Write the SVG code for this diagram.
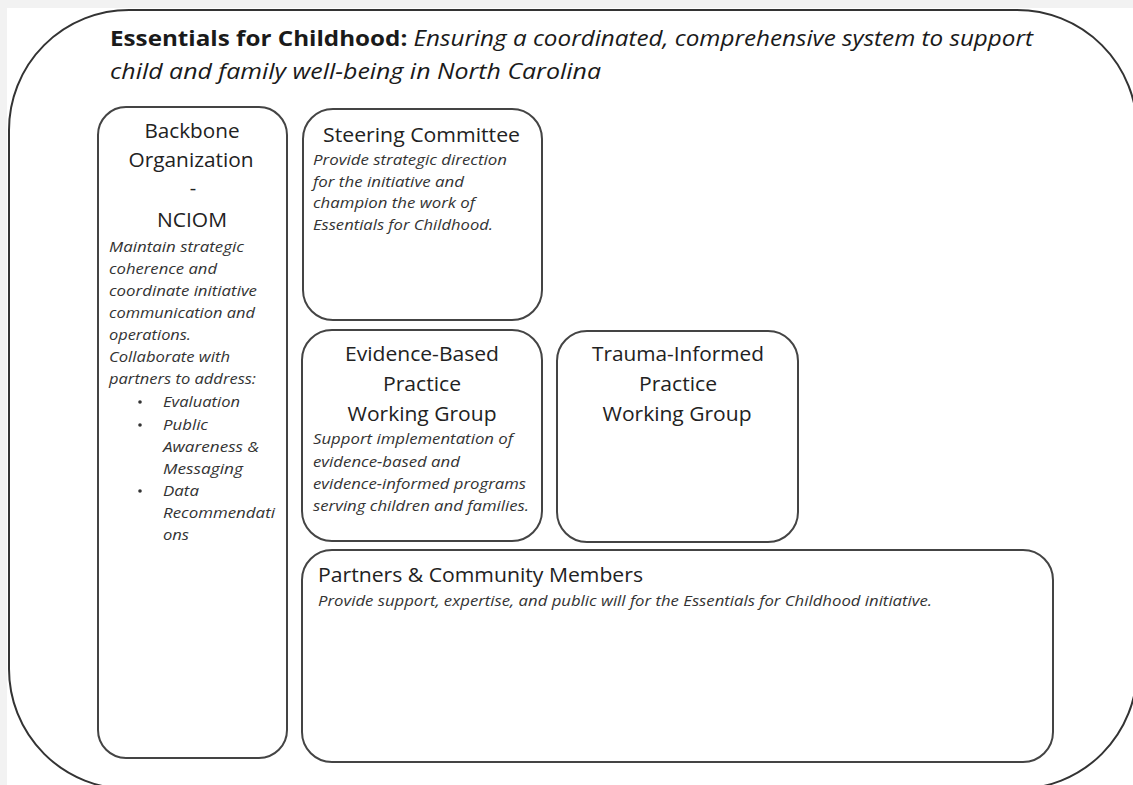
<svg xmlns="http://www.w3.org/2000/svg" width="1133" height="785" viewBox="0 0 1133 785">
<style>
.box{fill:#fff;stroke:#444;stroke-width:2}
.h{font-family:"Open Sans","Liberation Sans",sans-serif;font-size:20px;fill:#222}
.hc{text-anchor:middle}
.i{font-family:"Open Sans","Liberation Sans",sans-serif;font-size:14px;font-style:italic;fill:#333}
.t{font-family:"Open Sans","Liberation Sans",sans-serif;font-size:21px;fill:#1a1a1a}
</style>
<rect x="0" y="0" width="1133" height="785" fill="#f2f2f2"/>
<rect x="7" y="8" width="1126" height="777" fill="#fff"/>
<g id="frame">
<rect x="9" y="10" width="1128" height="779" rx="120" ry="120" fill="none" stroke="#333" stroke-width="2"/>
<text class="t" x="110" y="46" textLength="923" lengthAdjust="spacingAndGlyphs"><tspan font-weight="bold">Essentials for Childhood:</tspan><tspan font-style="italic"> Ensuring a coordinated, comprehensive system to support</tspan></text>
<text class="t" x="110" y="79" font-style="italic" textLength="491" lengthAdjust="spacingAndGlyphs">child and family well-being in North Carolina</text>
</g>
<g id="backbone">
<rect class="box" x="98" y="107" width="189" height="651" rx="28" ry="28"/>
<text class="h hc" x="192" y="138" textLength="95" lengthAdjust="spacingAndGlyphs">Backbone</text>
<text class="h hc" x="191" y="167" textLength="125" lengthAdjust="spacingAndGlyphs">Organization</text>
<text class="h hc" x="193" y="195">-</text>
<text class="h hc" x="192" y="227" textLength="70" lengthAdjust="spacingAndGlyphs">NCIOM</text>
<text class="i" x="109" y="252" textLength="135" lengthAdjust="spacingAndGlyphs">Maintain strategic</text>
<text class="i" x="109" y="274" textLength="108" lengthAdjust="spacingAndGlyphs">coherence and</text>
<text class="i" x="109" y="296" textLength="148" lengthAdjust="spacingAndGlyphs">coordinate initiative</text>
<text class="i" x="109" y="318" textLength="146" lengthAdjust="spacingAndGlyphs">communication and</text>
<text class="i" x="109" y="340" textLength="82" lengthAdjust="spacingAndGlyphs">operations.</text>
<text class="i" x="109" y="362" textLength="121" lengthAdjust="spacingAndGlyphs">Collaborate with</text>
<text class="i" x="109" y="384" textLength="147" lengthAdjust="spacingAndGlyphs">partners to address:</text>
<circle cx="140" cy="402" r="1.8" fill="#333"/>
<text class="i" x="163" y="407" textLength="77" lengthAdjust="spacingAndGlyphs">Evaluation</text>
<circle cx="140" cy="425" r="1.8" fill="#333"/>
<text class="i" x="163" y="430" textLength="45" lengthAdjust="spacingAndGlyphs">Public</text>
<text class="i" x="163" y="452" textLength="96" lengthAdjust="spacingAndGlyphs">Awareness &amp;</text>
<text class="i" x="163" y="474" textLength="80" lengthAdjust="spacingAndGlyphs">Messaging</text>
<circle cx="140" cy="491" r="1.8" fill="#333"/>
<text class="i" x="163" y="496" textLength="36" lengthAdjust="spacingAndGlyphs">Data</text>
<text class="i" x="163" y="518" textLength="112" lengthAdjust="spacingAndGlyphs">Recommendati</text>
<text class="i" x="163" y="540" textLength="26" lengthAdjust="spacingAndGlyphs">ons</text>
</g>
<g id="steering">
<rect class="box" x="303" y="109" width="239" height="211" rx="30" ry="30"/>
<text class="h hc" x="421.5" y="142" textLength="197" lengthAdjust="spacingAndGlyphs">Steering Committee</text>
<text class="i" x="313" y="165" textLength="194" lengthAdjust="spacingAndGlyphs">Provide strategic direction</text>
<text class="i" x="313" y="187" textLength="151" lengthAdjust="spacingAndGlyphs">for the initiative and</text>
<text class="i" x="313" y="208" textLength="162" lengthAdjust="spacingAndGlyphs">champion the work of</text>
<text class="i" x="313" y="230" textLength="180" lengthAdjust="spacingAndGlyphs">Essentials for Childhood.</text>
</g>
<g id="evidence">
<rect class="box" x="302" y="330" width="240" height="211" rx="30" ry="30"/>
<text class="h hc" x="422" y="361" textLength="154" lengthAdjust="spacingAndGlyphs">Evidence-Based</text>
<text class="h hc" x="422" y="391" textLength="78" lengthAdjust="spacingAndGlyphs">Practice</text>
<text class="h hc" x="422" y="421" textLength="149" lengthAdjust="spacingAndGlyphs">Working Group</text>
<text class="i" x="313" y="444" textLength="200" lengthAdjust="spacingAndGlyphs">Support implementation of</text>
<text class="i" x="313" y="467" textLength="147" lengthAdjust="spacingAndGlyphs">evidence-based and</text>
<text class="i" x="313" y="489" textLength="213" lengthAdjust="spacingAndGlyphs">evidence-informed programs</text>
<text class="i" x="313" y="511" textLength="216" lengthAdjust="spacingAndGlyphs">serving children and families.</text>
</g>
<g id="trauma">
<rect class="box" x="557" y="331" width="241" height="211" rx="30" ry="30"/>
<text class="h hc" x="678" y="361" textLength="172" lengthAdjust="spacingAndGlyphs">Trauma-Informed</text>
<text class="h hc" x="678" y="391" textLength="78" lengthAdjust="spacingAndGlyphs">Practice</text>
<text class="h hc" x="677" y="421" textLength="149" lengthAdjust="spacingAndGlyphs">Working Group</text>
</g>
<g id="partners">
<rect class="box" x="302" y="550" width="751" height="212" rx="30" ry="30"/>
<text class="h" x="318" y="582" textLength="325" lengthAdjust="spacingAndGlyphs">Partners &amp; Community Members</text>
<text class="i" x="318" y="606" textLength="614" lengthAdjust="spacingAndGlyphs">Provide support, expertise, and public will for the Essentials for Childhood initiative.</text>
</g>
<g id="connectors"></g>
</svg>
